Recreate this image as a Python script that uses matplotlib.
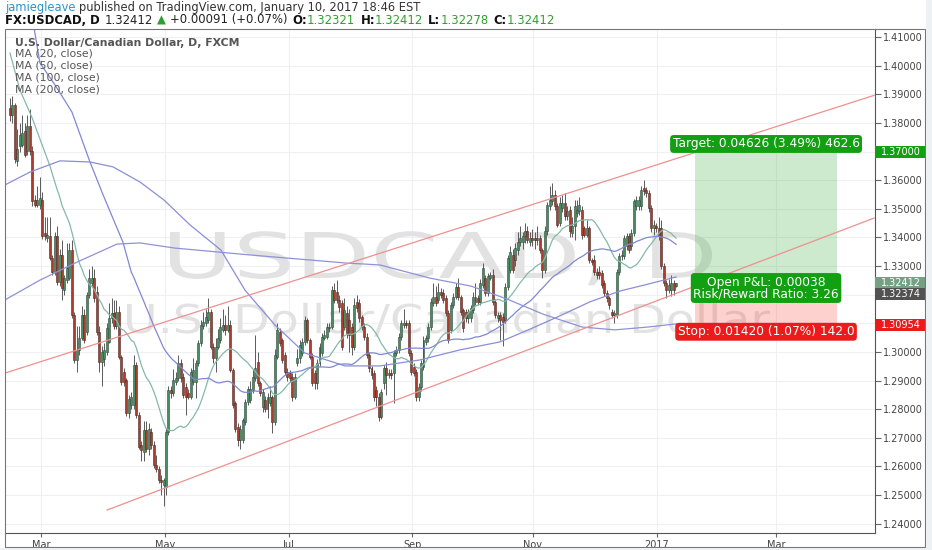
import numpy as np
import pandas as pd
import matplotlib
matplotlib.use("Agg")
import matplotlib.pyplot as plt
from matplotlib.patches import Rectangle, PathPatch
from matplotlib.textpath import TextPath
from matplotlib.font_manager import FontProperties
from matplotlib.transforms import Affine2D

W, H, DPI = 932, 550, 100

# daily candles, FX:USDCAD
opens = [
    1.3854, 1.3830, 1.3863, 1.3667, 1.3719, 1.3725, 1.3772, 1.3702, 1.3789, 1.3702,
    1.3532, 1.3515, 1.3515, 1.3532, 1.3416, 1.3398, 1.3404, 1.3328, 1.3281, 1.3404,
    1.3246, 1.3340, 1.3217, 1.3252, 1.3258, 1.3355, 1.3129, 1.2972, 1.3007, 1.3048,
    1.3129, 1.3071, 1.3199, 1.3240, 1.3258, 1.3211, 1.3071, 1.2966, 1.2975, 1.3001,
    1.3036, 1.3118, 1.3135, 1.3089, 1.3141, 1.2983, 1.2931, 1.2902, 1.2785, 1.2814,
    1.2814, 1.2954, 1.2779, 1.2674, 1.2650, 1.2726, 1.2662, 1.2721, 1.2674, 1.2604,
    1.2592, 1.2551, 1.2534, 1.2528, 1.2721, 1.2867,
    1.2855, 1.2896, 1.2907, 1.2960,
    1.2913, 1.2878, 1.2855, 1.2843, 1.2896, 1.2896, 1.2960, 1.3030, 1.3091, 1.3100,
    1.3112, 1.3141, 1.3018, 1.2977, 1.3018, 1.3042, 1.3077, 1.3094, 1.3077, 1.3094,
    1.2937, 1.2820, 1.2738, 1.2691, 1.2691, 1.2755, 1.2825, 1.2831, 1.2866, 1.2907,
    1.2966, 1.2890, 1.2808, 1.2831, 1.2802, 1.2820, 1.2843, 1.2755, 1.2983, 1.3071,
    1.3042, 1.2989, 1.2931, 1.2925, 1.2913, 1.2843, 1.2960, 1.2977, 1.2995, 1.3036,
    1.3112, 1.3042, 1.2983, 1.2925, 1.2890, 1.2960, 1.2995, 1.3047, 1.3053, 1.3082,
    1.3088, 1.3217, 1.3211, 1.3182,
    1.3170, 1.3088, 1.3135, 1.3112, 1.3088, 1.3018,
    1.3176, 1.3170, 1.3123, 1.3088, 1.3053, 1.2989, 1.2942, 1.2925, 1.2866, 1.2843,
    1.2773, 1.2890, 1.2942, 1.2919, 1.2925, 1.2925, 1.2995, 1.3007, 1.3053, 1.3094,
    1.3100, 1.3100, 1.2995, 1.2948, 1.2931, 1.2843, 1.2878, 1.2948, 1.3036, 1.3047,
    1.3088, 1.3170, 1.3193, 1.3182, 1.3211, 1.3205, 1.3188, 1.3135, 1.3077, 1.3164,
    1.3193, 1.3228, 1.3193, 1.3147, 1.3141, 1.3118, 1.3118, 1.3147, 1.3176, 1.3188,
    1.3176, 1.3234, 1.3258, 1.3205, 1.3258, 1.3269, 1.3176, 1.3118, 1.3129, 1.3123,
    1.3112, 1.3228, 1.3287, 1.3339,
    1.3322, 1.3357, 1.3386, 1.3386, 1.3404, 1.3421,
    1.3386, 1.3398, 1.3398, 1.3393, 1.3398, 1.3357, 1.3287, 1.3421, 1.3509, 1.3526,
    1.3550, 1.3509, 1.3450, 1.3503, 1.3520, 1.3474, 1.3497, 1.3415, 1.3439, 1.3485,
    1.3491, 1.3497, 1.3433, 1.3410, 1.3433, 1.3322, 1.3322, 1.3281, 1.3281, 1.3275,
    1.3240, 1.3205, 1.3188, 1.3141, 1.3129, 1.3129, 1.3281, 1.3334, 1.3334, 1.3369,
    1.3404, 1.3369, 1.3415, 1.3509, 1.3509, 1.3509, 1.3573, 1.3567, 1.3556, 1.3503,
    1.3433, 1.3439, 1.3433, 1.3433, 1.3299, 1.3240, 1.3217, 1.3217, 1.3240, 1.32321,
]
highs = [
    1.3889, 1.3895, 1.3870, 1.3780, 1.3800, 1.3830, 1.3800, 1.3830, 1.3850, 1.3720,
    1.3550, 1.3580, 1.3610, 1.3560, 1.3470, 1.3470, 1.3470, 1.3340, 1.3420, 1.3440,
    1.3360, 1.3390, 1.3270, 1.3380, 1.3380, 1.3390, 1.3140, 1.3090, 1.3090, 1.3160,
    1.3150, 1.3210, 1.3290, 1.3300, 1.3290, 1.3230, 1.3090, 1.3020, 1.3030, 1.3100,
    1.3170, 1.3190, 1.3180, 1.3180, 1.3160, 1.2990, 1.2945, 1.2910, 1.2850, 1.2860,
    1.2990, 1.2965, 1.2790, 1.2690, 1.2760, 1.2760, 1.2750, 1.2735, 1.2690, 1.2640,
    1.2600, 1.2570, 1.2560, 1.2735, 1.2880, 1.2880,
    1.2940, 1.2930, 1.2990, 1.2975,
    1.2925, 1.2890, 1.2870, 1.2945, 1.2980, 1.2970, 1.3040, 1.3110, 1.3140, 1.3150,
    1.3190, 1.3150, 1.3030, 1.3050, 1.3080, 1.3120, 1.3150, 1.3130, 1.3160, 1.3110,
    1.2945, 1.2830, 1.2750, 1.2745, 1.2770, 1.2835, 1.2880, 1.2900, 1.2940, 1.3060,
    1.3000, 1.2900, 1.2870, 1.2845, 1.2855, 1.2880, 1.2850, 1.3010, 1.3100, 1.3085,
    1.3050, 1.3000, 1.2945, 1.2935, 1.2925, 1.2925, 1.3010, 1.3040, 1.3050, 1.3125,
    1.3120, 1.3050, 1.2995, 1.2935, 1.2975, 1.3030, 1.3065, 1.3075, 1.3100, 1.3100,
    1.3230, 1.3240, 1.3250, 1.3200,
    1.3180, 1.3190, 1.3160, 1.3150, 1.3100, 1.3190,
    1.3200, 1.3185, 1.3130, 1.3100, 1.3065, 1.3000, 1.2950, 1.2935, 1.2880, 1.2855,
    1.2870, 1.2955, 1.2965, 1.2940, 1.2940, 1.3005, 1.3020, 1.3065, 1.3110, 1.3150,
    1.3110, 1.3110, 1.3005, 1.2960, 1.2940, 1.2890, 1.2970, 1.3055, 1.3060, 1.3100,
    1.3190, 1.3240, 1.3230, 1.3240, 1.3225, 1.3220, 1.3200, 1.3145, 1.3175, 1.3205,
    1.3240, 1.3260, 1.3200, 1.3155, 1.3150, 1.3150, 1.3165, 1.3210, 1.3240, 1.3200,
    1.3255, 1.3310, 1.3270, 1.3275, 1.3280, 1.3290, 1.3185, 1.3140, 1.3140, 1.3135,
    1.3240, 1.3340, 1.3370, 1.3360,
    1.3380, 1.3420, 1.3440, 1.3420, 1.3450, 1.3440,
    1.3420, 1.3430, 1.3420, 1.3440, 1.3410, 1.3365, 1.3440, 1.3525, 1.3580, 1.3590,
    1.3565, 1.3520, 1.3540, 1.3550, 1.3555, 1.3510, 1.3510, 1.3470, 1.3530, 1.3530,
    1.3540, 1.3510, 1.3440, 1.3460, 1.3440, 1.3330, 1.3340, 1.3295, 1.3300, 1.3285,
    1.3250, 1.3215, 1.3195, 1.3150, 1.3145, 1.3290, 1.3345, 1.3355, 1.3410, 1.3415,
    1.3415, 1.3430, 1.3535, 1.3545, 1.3545, 1.3580, 1.3600, 1.3575, 1.3565, 1.3515,
    1.3460, 1.3450, 1.3470, 1.3460, 1.3310, 1.3250, 1.3255, 1.3270, 1.3250, 1.32412,
]
lows = [
    1.3807, 1.3800, 1.3660, 1.3650, 1.3700, 1.3715, 1.3680, 1.3690, 1.3690, 1.3510,
    1.3505, 1.3505, 1.3500, 1.3395, 1.3390, 1.3385, 1.3320, 1.3270, 1.3270, 1.3235,
    1.3230, 1.3180, 1.3200, 1.3240, 1.3250, 1.3120, 1.2960, 1.2930, 1.2990, 1.3040,
    1.3030, 1.3060, 1.3190, 1.3230, 1.3175, 1.3060, 1.2930, 1.2880, 1.2950, 1.2990,
    1.3030, 1.3100, 1.3080, 1.3080, 1.2975, 1.2885, 1.2880, 1.2775, 1.2770, 1.2800,
    1.2800, 1.2770, 1.2660, 1.2620, 1.2620, 1.2650, 1.2640, 1.2660, 1.2595, 1.2580,
    1.2540, 1.2500, 1.2460, 1.2500, 1.2710, 1.2840,
    1.2845, 1.2885, 1.2900, 1.2895,
    1.2840, 1.2780, 1.2835, 1.2835, 1.2885, 1.2840, 1.2950, 1.3020, 1.3080, 1.3090,
    1.3100, 1.3010, 1.2960, 1.2930, 1.3010, 1.3030, 1.3070, 1.3060, 1.3070, 1.2930,
    1.2805, 1.2720, 1.2670, 1.2660, 1.2680, 1.2745, 1.2815, 1.2820, 1.2855, 1.2900,
    1.2880, 1.2845, 1.2790, 1.2790, 1.2770, 1.2810, 1.2715, 1.2745, 1.2975, 1.3020,
    1.2960, 1.2920, 1.2900, 1.2895, 1.2830, 1.2835, 1.2950, 1.2960, 1.2985, 1.3025,
    1.3030, 1.2975, 1.2880, 1.2870, 1.2870, 1.2950, 1.2985, 1.3040, 1.3045, 1.3070,
    1.3080, 1.3170, 1.3170, 1.3140,
    1.3005, 1.3075, 1.3050, 1.3000, 1.2990, 1.3005,
    1.3140, 1.3105, 1.3075, 1.3040, 1.2980, 1.2930, 1.2905, 1.2830, 1.2810, 1.2760,
    1.2765, 1.2870, 1.2850, 1.2910, 1.2905, 1.2820, 1.2985, 1.2995, 1.3040, 1.3085,
    1.3085, 1.2985, 1.2920, 1.2915, 1.2830, 1.2830, 1.2865, 1.2935, 1.3025, 1.3035,
    1.3075, 1.3160, 1.3160, 1.3170, 1.3190, 1.3170, 1.3125, 1.3030, 1.3065, 1.3155,
    1.3185, 1.3180, 1.3130, 1.3070, 1.3105, 1.3100, 1.3105, 1.3135, 1.3165, 1.3165,
    1.3165, 1.3225, 1.3195, 1.3195, 1.3250, 1.3165, 1.3120, 1.3105, 1.3040, 1.3020,
    1.3100, 1.3215, 1.3275, 1.3275,
    1.3300, 1.3340, 1.3370, 1.3360, 1.3380, 1.3380,
    1.3370, 1.3370, 1.3360, 1.3375, 1.3345, 1.3260, 1.3275, 1.3410, 1.3495, 1.3515,
    1.3495, 1.3435, 1.3440, 1.3490, 1.3460, 1.3460, 1.3400, 1.3400, 1.3390, 1.3470,
    1.3480, 1.3395, 1.3400, 1.3400, 1.3310, 1.3305, 1.3270, 1.3255, 1.3255, 1.3225,
    1.3195, 1.3175, 1.3150, 1.3120, 1.3100, 1.3120, 1.3270, 1.3320, 1.3325, 1.3355,
    1.3345, 1.3355, 1.3405, 1.3495, 1.3495, 1.3495, 1.3550, 1.3540, 1.3490, 1.3420,
    1.3410, 1.3420, 1.3390, 1.3290, 1.3230, 1.3190, 1.3205, 1.3195, 1.3200, 1.32278,
]
closes = [
    1.3830, 1.3863, 1.3673, 1.3708, 1.3760, 1.3766, 1.3690, 1.3789, 1.3702, 1.3527,
    1.3515, 1.3532, 1.3538, 1.3404, 1.3404, 1.3410, 1.3328, 1.3281, 1.3404, 1.3246,
    1.3340, 1.3223, 1.3258, 1.3293, 1.3355, 1.3129, 1.2972, 1.3007, 1.3048, 1.3129,
    1.3042, 1.3199, 1.3258, 1.3258, 1.3188, 1.3071, 1.2966, 1.3001, 1.3007, 1.3083,
    1.3118, 1.3135, 1.3089, 1.3141, 1.2983, 1.2896, 1.2896, 1.2785, 1.2837, 1.2843,
    1.2954, 1.2779, 1.2668, 1.2656, 1.2726, 1.2662, 1.2732, 1.2674, 1.2604, 1.2592,
    1.2551, 1.2545, 1.2551, 1.2721, 1.2867, 1.2855,
    1.2902, 1.2907, 1.2960, 1.2907,
    1.2849, 1.2843, 1.2843, 1.2931, 1.2937, 1.2960, 1.3030, 1.3094, 1.3106, 1.3123,
    1.3141, 1.3018, 1.2977, 1.3018, 1.3047, 1.3088, 1.3094, 1.3077, 1.3094, 1.2937,
    1.2814, 1.2732, 1.2691, 1.2732, 1.2761, 1.2825, 1.2872, 1.2872, 1.2913, 1.2942,
    1.2890, 1.2855, 1.2861, 1.2802, 1.2843, 1.2843, 1.2755, 1.2989, 1.3077, 1.3030,
    1.2972, 1.2931, 1.2913, 1.2907, 1.2843, 1.2913, 1.2977, 1.3024, 1.3036, 1.3112,
    1.3042, 1.2983, 1.2890, 1.2890, 1.2960, 1.3018, 1.3053, 1.3059, 1.3088, 1.3088,
    1.3217, 1.3182, 1.3182, 1.3158,
    1.3018, 1.3147, 1.3065, 1.3059, 1.3018, 1.3164,
    1.3152, 1.3118, 1.3088, 1.3053, 1.2989, 1.2942, 1.2919, 1.2843, 1.2843, 1.2773,
    1.2860, 1.2942, 1.2919, 1.2925, 1.2919, 1.2995, 1.3007, 1.3053, 1.3100, 1.3100,
    1.3094, 1.2995, 1.2931, 1.2925, 1.2843, 1.2878, 1.2960, 1.3042, 1.3047, 1.3088,
    1.3176, 1.3193, 1.3170, 1.3211, 1.3199, 1.3182, 1.3135, 1.3042, 1.3164, 1.3193,
    1.3228, 1.3193, 1.3141, 1.3083, 1.3118, 1.3141, 1.3152, 1.3193, 1.3193, 1.3176,
    1.3240, 1.3293, 1.3205, 1.3264, 1.3269, 1.3176, 1.3129, 1.3129, 1.3112, 1.3106,
    1.3228, 1.3328, 1.3351, 1.3287,
    1.3363, 1.3386, 1.3398, 1.3404, 1.3421, 1.3393,
    1.3398, 1.3393, 1.3393, 1.3398, 1.3357, 1.3287, 1.3421, 1.3515, 1.3532, 1.3550,
    1.3509, 1.3445, 1.3520, 1.3520, 1.3474, 1.3491, 1.3421, 1.3439, 1.3509, 1.3497,
    1.3515, 1.3410, 1.3410, 1.3433, 1.3322, 1.3316, 1.3281, 1.3269, 1.3269, 1.3234,
    1.3205, 1.3188, 1.3164, 1.3129, 1.3135, 1.3281, 1.3334, 1.3340, 1.3398, 1.3404,
    1.3357, 1.3415, 1.3526, 1.3532, 1.3532, 1.3567, 1.3561, 1.3556, 1.3503, 1.3433,
    1.3445, 1.3433, 1.3404, 1.3299, 1.3240, 1.3217, 1.3234, 1.3240, 1.3217, 1.32412,
]

# moving averages: MA20 / MA50 start values come from data before the visible window
ma20_head_x = [0, 4, 9, 16]
ma20_head_y = [1.4045, 1.3916, 1.3817, 1.3653]
ma50_head_x = [9.3, 12.1, 18.2, 25.0, 32.3, 37.6, 45.6]
ma50_head_y = [1.4154, 1.4010, 1.3933, 1.3839, 1.3664, 1.3549, 1.3384]
ma100_x = [-2.0, 8.1, 20.2, 32.3, 41.6, 52.5, 62.2, 72.7, 85.2, 94.9, 107.0, 119.1,
           135.3, 149.4, 165.6, 181.7, 197.9, 211.2, 222.1, 234.2, 246.4, 257.7, 269.0]
ma100_y = [1.3584, 1.3629, 1.3668, 1.3664, 1.3647, 1.3594, 1.3531, 1.3444, 1.3356, 1.3216,
           1.3094, 1.2996, 1.2951, 1.2951, 1.2972, 1.3007, 1.3035, 1.3084, 1.3126, 1.3175,
           1.3213, 1.3237, 1.3262]
ma200_x = [-2.0, 12.1, 27.1, 43.2, 52.5, 66.6, 96.9, 135.3, 149.4, 169.6, 186.2, 200.7,
           215.3, 231.0, 244.3, 257.7, 269.0]
ma200_y = [1.3182, 1.3251, 1.3314, 1.3377, 1.3381, 1.3363, 1.3339, 1.3311, 1.3304, 1.3258,
           1.3230, 1.3185, 1.3132, 1.3087, 1.3077, 1.3087, 1.3098]

# drawings
chan_up_x, chan_up_y = [-2.0, 349.0], [1.2926, 1.3897]
chan_lo_x, chan_lo_y = [39.2, 349.0], [1.2447, 1.3468]
entry, target, stop = 1.32374, 1.37000, 1.30954
zone_x0, zone_x1 = 276.7, 334.0

month_pos = [12.7, 62.6, 112.5, 162.4, 211.2, 261.3, 309.4]
month_lbl = ["Mar", "May", "Jul", "Sep", "Nov", "2017", "Mar"]

o = np.array(opens); h = np.array(highs); l = np.array(lows); c = np.array(closes)
N = len(c)
idx = np.arange(N)

GREEN_C, RED_C = "#468d62", "#ad3c2c"
TAG_GREEN, TAG_RED = "#12a012", "#ec1b1b"

fig = plt.figure(figsize=(W / DPI, H / DPI), dpi=DPI, facecolor="white")
ax = fig.add_axes([5 / W, (H - 533) / H, 870 / W, (533 - 29) / H])
ax.set_xlim(-2.02, 349.35)
ax.set_ylim(1.23668, 1.41290)

# grid + axes
levels = np.round(np.arange(1.24, 1.4101, 0.01), 2)
ax.set_yticks(levels)
ax.set_yticklabels(["" if round(v, 2) in (1.31, 1.32, 1.37) else f"{v:.5f}" for v in levels])
ax.set_xticks(month_pos, month_lbl)
ax.yaxis.tick_right()
ax.grid(True, color="#eef0f3", lw=0.8, zorder=0)
ax.set_axisbelow(True)
ax.tick_params(axis="y", direction="out", length=4, color="#666", labelcolor="#444",
               labelsize=7, pad=2)
ax.tick_params(axis="x", direction="out", length=3, color="#666", labelcolor="#444",
               labelsize=7, pad=2)
for side in ["left", "top"]:
    ax.spines[side].set_visible(False)
for side in ["right", "bottom"]:
    ax.spines[side].set_color("#555")
    ax.spines[side].set_linewidth(0.8)


def watermark(text, x0, x1, ytop, ybase, color):
    fp = FontProperties(family="DejaVu Sans")
    tp = TextPath((0, 0), text, size=100, prop=fp)
    cap = TextPath((0, 0), "H", size=100, prop=fp).get_extents().height
    ext = tp.get_extents()
    sx = (x1 - x0) / ext.width
    sy = (ybase - ytop) / cap
    tr = Affine2D().translate(-ext.x0, 0).scale(sx, sy).translate(x0, H - ybase)
    ax.add_patch(PathPatch(tp, transform=tr, fc=color, ec="none", zorder=1))


watermark("USDCAD, D", 170, 712, 232, 278, "#e2e2e2")
watermark("U.S. Dollar/Canadian Dollar", 127, 770, 304, 333, "#e2e2e2")

# position tool zones
ax.add_patch(Rectangle((zone_x0, entry), zone_x1 - zone_x0, target - entry,
                       fc=(0.30, 0.69, 0.31, 0.28), ec="none", zorder=2))
ax.add_patch(Rectangle((zone_x0, stop), zone_x1 - zone_x0, entry - stop,
                       fc=(0.96, 0.26, 0.21, 0.24), ec="none", zorder=2))

# candles
up = c >= o
ax.vlines(idx, l, h, color="#5a5a5a", lw=0.7, zorder=3)
body = np.maximum(np.abs(c - o), 0.00012)
ax.bar(idx[up], body[up], bottom=o[up], width=0.8, color=GREEN_C,
       edgecolor="#2d4a38", lw=0.4, zorder=4)
ax.bar(idx[~up], body[~up], bottom=c[~up], width=0.8, color=RED_C,
       edgecolor="#4a2a22", lw=0.4, zorder=4)

# moving averages
s = pd.Series(c)
ma20 = s.rolling(20).mean().to_numpy()
ma50 = s.rolling(50).mean().to_numpy()
ax.plot(ma20_head_x + list(idx[19:]), ma20_head_y + list(ma20[19:]),
        color="#86b8ab", lw=0.9, zorder=5)
ax.plot(ma50_head_x + list(idx[49:]), ma50_head_y + list(ma50[49:]),
        color="#8088d2", lw=0.9, zorder=5)
ax.plot(ma100_x, ma100_y, color="#8a8ed6", lw=0.9, zorder=5)
ax.plot(ma200_x, ma200_y, color="#9092d8", lw=0.9, zorder=5)

# trend channel
ax.plot(chan_up_x, chan_up_y, color="#ef9090", lw=0.9, zorder=6)
ax.plot(chan_lo_x, chan_lo_y, color="#ef9090", lw=0.9, zorder=6)

# position labels
mid = (zone_x0 + zone_x1) / 2
gain = target - entry
risk = entry - stop
lbl_font = dict(fontsize=8.8, color="white", ha="center", va="center", zorder=9)
box = "round,pad=0.2,rounding_size=0.3"
ax.text(mid, target + 0.0027,
        f"Target: {gain:.5f} ({gain / entry * 100:.2f}%) {gain * 1e4:.1f}",
        bbox=dict(boxstyle=box, fc=TAG_GREEN, ec="none"), **lbl_font)
ax.text(mid, entry - 0.0014,
        f"Open P&L: {c[-1] - entry:.5f}\nRisk/Reward Ratio: {gain / risk:.2f}",
        linespacing=0.9, bbox=dict(boxstyle=box, fc=TAG_GREEN, ec="none"), **lbl_font)
ax.text(mid, stop - 0.0025,
        f"Stop: {risk:.5f} ({risk / entry * 100:.2f}%) {risk * 1e4:.1f}",
        bbox=dict(boxstyle=box, fc=TAG_RED, ec="none"), **lbl_font)

# price tags on the right scale
ytr = ax.get_yaxis_transform()
tag_h = 12 / 2860


def price_tag(price, color, shift=0.0):
    yc = price + shift
    ax.add_patch(Rectangle((1.0, yc - tag_h / 2), 50 / 870, tag_h, transform=ytr,
                           fc=color, ec="none", clip_on=False, zorder=9))
    ax.text(1.0 + 6 / 870, yc, f"{price:.5f}", transform=ytr, fontsize=7, color="white",
            ha="left", va="center", clip_on=False, zorder=10)


price_tag(target, TAG_GREEN)
price_tag(c[-1], "#74a184")
price_tag(entry, "#525252", shift=-0.0036)
price_tag(stop, TAG_RED)

# outer frame
fig.patches.append(Rectangle((5 / W, 3 / H), 920 / W, 518 / H, transform=fig.transFigure,
                             fill=False, ec="#777", lw=0.8))
fig.patches.append(Rectangle((925.5 / W, 0), 7 / W, 1, transform=fig.transFigure,
                             fc="#eef1f4", ec="none"))
fig.patches.append(Rectangle((0, 0), 1, 2.5 / H, transform=fig.transFigure,
                             fc="#eef1f4", ec="none"))

renderer = fig.canvas.get_renderer()


def text_run(x_px, y_px, parts, size):
    x = x_px
    for s_, col, wt, gap in parts:
        t = fig.text(x / W, 1 - y_px / H, s_, fontsize=size, color=col, fontweight=wt,
                     ha="left", va="center")
        x += t.get_window_extent(renderer).width + gap


text_run(5, 7.5, [("jamiegleave", "#2f93c8", "normal", 3.5),
                  ("published on TradingView.com, January 10, 2017 18:46 EST", "#333", "normal", 0)],
         8.3)
G = "#2ca02c"
text_run(5, 20, [("FX:USDCAD, D", "#111", "bold", 5),
                 (f"{c[-1]:.5f}", "#222", "normal", 4),
                 ("\u25b2", G, "normal", 4),
                 ("+0.00091 (+0.07%)", "#222", "normal", 5),
                 ("O:", "#111", "bold", 0), (f"{o[-1]:.5f}", G, "normal", 5),
                 ("H:", "#111", "bold", 0), (f"{h[-1]:.5f}", G, "normal", 5),
                 ("L:", "#111", "bold", 0), (f"{l[-1]:.5f}", G, "normal", 5),
                 ("C:", "#111", "bold", 0), (f"{c[-1]:.5f}", G, "normal", 0)],
         8.4)

legend_rows = ["MA (20, close)", "MA (50, close)", "MA (100, close)", "MA (200, close)"]
fig.text(15 / W, 1 - 42.5 / H, "U.S. Dollar/Canadian Dollar, D, FXCM", fontsize=7.8,
         color="#555", fontweight="semibold", ha="left", va="center")
for k, row in enumerate(legend_rows):
    fig.text(15 / W, 1 - (54 + 11.8 * k) / H, row, fontsize=7.8, color="#555",
             ha="left", va="center")

fig.savefig("out.png", dpi=DPI, facecolor=fig.get_facecolor())
